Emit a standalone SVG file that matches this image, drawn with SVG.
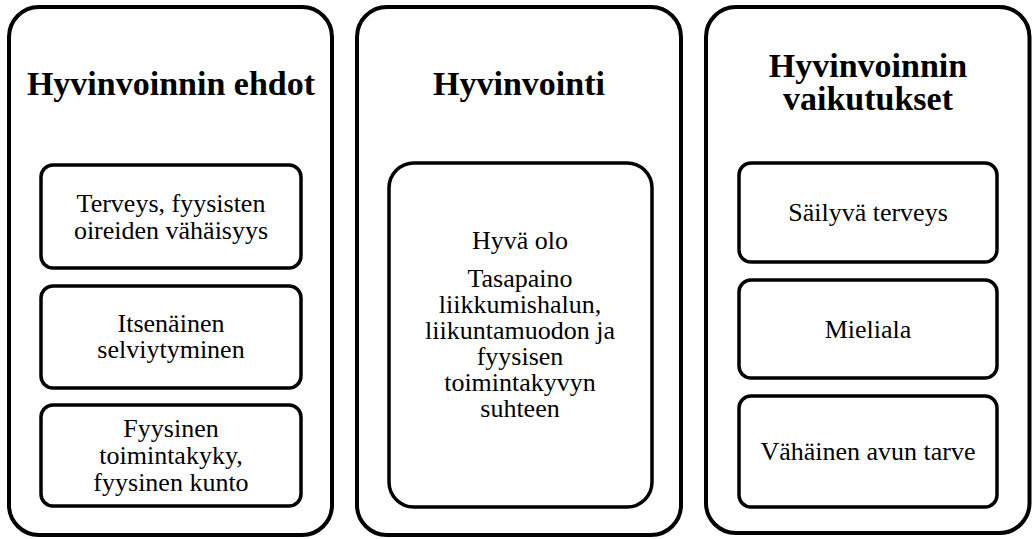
<svg xmlns="http://www.w3.org/2000/svg" width="1033" height="539" viewBox="0 0 1033 539">
<style>
.outer{fill:#fff;stroke:#000;stroke-width:4}
.inner{fill:#fff;stroke:#000;stroke-width:3.5}
.title{font-family:"Liberation Serif","Times New Roman",serif;font-weight:bold;font-size:34px;text-anchor:middle;fill:#000}
.body{font-family:"Liberation Serif","Times New Roman",serif;font-size:26px;text-anchor:middle;fill:#000}
</style>
<rect width="1033" height="539" fill="#fff"/>
<g id="col-ehdot">
<rect class="outer" x="9" y="7" width="323" height="528" rx="30"/>
<text class="title" x="171" y="95">Hyvinvoinnin ehdot</text>
</g>
<g id="ehdot-1">
<rect class="inner" x="41" y="165" width="260" height="103" rx="12"/>
<text class="body" x="171" y="212">Terveys, fyysisten</text>
<text class="body" x="171" y="239">oireiden vähäisyys</text>
</g>
<g id="ehdot-2">
<rect class="inner" x="41" y="286" width="260" height="102" rx="12"/>
<text class="body" x="171" y="332">Itsenäinen</text>
<text class="body" x="171" y="358">selviytyminen</text>
</g>
<g id="ehdot-3">
<rect class="inner" x="41" y="405" width="260" height="101" rx="12"/>
<text class="body" x="171" y="437">Fyysinen</text>
<text class="body" x="171" y="464">toimintakyky,</text>
<text class="body" x="171" y="491">fyysinen kunto</text>
</g>
<g id="col-hyvinvointi">
<rect class="outer" x="357" y="7" width="324" height="528" rx="30"/>
<text class="title" x="519" y="95">Hyvinvointi</text>
</g>
<g id="hyvinvointi-1">
<rect class="inner" x="389" y="163" width="263" height="344" rx="25"/>
<text class="body" x="520" y="249">Hyvä olo</text>
<text class="body" x="520" y="287">Tasapaino</text>
<text class="body" x="520" y="313">liikkumishalun,</text>
<text class="body" x="520" y="339">liikuntamuodon ja</text>
<text class="body" x="520" y="365">fyysisen</text>
<text class="body" x="520" y="391">toimintakyvyn</text>
<text class="body" x="520" y="417">suhteen</text>
</g>
<g id="col-vaikutukset">
<rect class="outer" x="706" y="7" width="323.5" height="526" rx="30"/>
<text class="title" x="868" y="77">Hyvinvoinnin</text>
<text class="title" x="868" y="110">vaikutukset</text>
</g>
<g id="vaikutukset-1">
<rect class="inner" x="739" y="163" width="258" height="99" rx="12"/>
<text class="body" x="868" y="221">Säilyvä terveys</text>
</g>
<g id="vaikutukset-2">
<rect class="inner" x="739" y="280" width="258" height="98" rx="12"/>
<text class="body" x="868" y="338">Mieliala</text>
</g>
<g id="vaikutukset-3">
<rect class="inner" x="739" y="396" width="258" height="111" rx="12"/>
<text class="body" x="868" y="460">Vähäinen avun tarve</text>
</g>
<g id="connectors"/>
</svg>
